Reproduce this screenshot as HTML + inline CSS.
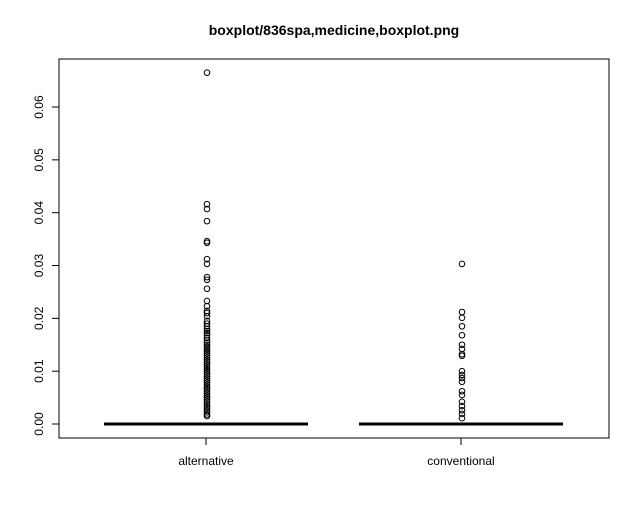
<!DOCTYPE html>
<html><head><meta charset="utf-8"><style>
html,body{margin:0;padding:0;background:#fff;}
text{font-family:"Liberation Sans",sans-serif;}
</style></head><body>
<svg id="chart" width="640" height="512" xmlns="http://www.w3.org/2000/svg">
<text x="334" y="35" text-anchor="middle" font-size="14" font-weight="bold">boxplot/836spa,medicine,boxplot.png</text>
<rect x="59" y="59" width="550" height="379" fill="none" stroke="#000" stroke-width="1"/>
<g id="yaxis"></g>
<g id="xaxis"></g>
<g id="marks"></g>
</svg>
<script>
const categories = ["alternative","conventional"];
const medians = [0, 0];
const q1 = [0, 0];
const q3 = [0, 0];
const yTicks = [0, 0.01, 0.02, 0.03, 0.04, 0.05, 0.06];
const yTickLabels = ["0.00","0.01","0.02","0.03","0.04","0.05","0.06"];
const outliersAlt = [0.0665,0.0416,0.0407,0.0384,0.0346,0.0343,0.0312,0.0303,0.0278,0.0273,0.0256,0.0233,0.0223,0.0214,0.021,0.0204,
 0.0195,0.019,0.0185,0.018,0.0176,0.0172,0.0168,0.0163,0.0158,0.0154,0.015,0.0146,0.0142,0.0138,0.0134,0.013,0.0126,0.0122,0.0118,0.0114,0.011,0.0106,0.0102,0.0098,0.0094,0.009,0.0086,0.0082,0.0078,0.0074,0.007,0.0066,0.0062,0.0058,0.0054,0.005,0.0046,0.0042,0.0038,0.0034,0.003,0.0026,0.0022,0.0018,0.0015];
const outliersConv = [0.0303,0.0212,0.0201,0.0185,0.0168,0.015,0.0142,0.0132,0.0129,0.01,0.0093,0.0087,0.008,0.0062,0.0055,0.0042,0.0034,0.0026,0.0019,0.0011];
const outliers = [outliersAlt, outliersConv];

const NS="http://www.w3.org/2000/svg";
const yScale = v => 424 - v*5283;
const xScale = i => 206 + i*255;
function mk(tag, attrs, parent){const e=document.createElementNS(NS,tag);for(const k in attrs)e.setAttribute(k,attrs[k]);parent.appendChild(e);return e;}
const ya=document.getElementById('yaxis'), xa=document.getElementById('xaxis'), mg=document.getElementById('marks');
mk('line',{x1:59,x2:59,y1:yScale(yTicks[0]),y2:yScale(yTicks[yTicks.length-1]),stroke:'#000'},ya);
yTicks.forEach((t,i)=>{
  const y=yScale(t);
  const l=mk('line',{x1:52,x2:59,y1:y,y2:y,stroke:'#000'},ya);
  
  
  const tx=mk('text',{x:43,y:y,'font-size':12,'text-anchor':'middle',transform:`rotate(-90 43 ${y})`},ya);
  
  
  tx.textContent=yTickLabels[i];
});
categories.forEach((c,i)=>{
  const x=xScale(i);
  const l=mk('line',{x1:x,x2:x,y1:438,y2:445,stroke:'#000'},xa);
  
  
  const tx=mk('text',{x:x,y:465,'font-size':12,'text-anchor':'middle'},xa);
  
  
  tx.textContent=c;
  const g=mk('g',{},mg);
  
  
  const hw=102;
  mk('rect',{x:x-hw,y:yScale(q3[i]),width:2*hw,height:Math.max(0,yScale(q1[i])-yScale(q3[i])),fill:'none',stroke:'#000'},g);
  const m=mk('line',{x1:x-hw,x2:x+hw,y1:yScale(medians[i]),y2:yScale(medians[i]),stroke:'#000','stroke-width':3},g);
  
  
  outliers[i].forEach(v=>{
    const p=mk('circle',{cx:x+1,cy:yScale(v),r:2.8,fill:'none',stroke:'#000','stroke-width':1},g);
    
    
  });
});
</script>
</body></html>
